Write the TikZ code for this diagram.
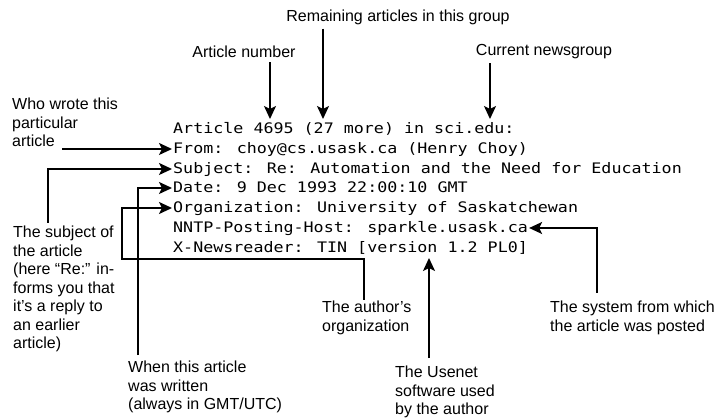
\documentclass[tikz,border=0pt]{standalone}
\usepackage{fontspec}
\setmainfont{Liberation Sans}
\newfontfamily\screenmono[FakeStretch=1.15]{DejaVu Sans Mono}
\usetikzlibrary{arrows.meta}

\begin{document}
\begin{tikzpicture}[x=1pt, y=-1pt,
  note/.style={inner sep=0pt, align=left, font=\fontsize{16}{18.5}\selectfont},
  hdr/.style={inner sep=0pt, anchor=west, text height=10pt, text depth=0pt,
    font=\screenmono\fontsize{14.5}{19.7}\selectfont},
  pointer/.style={line width=1.8pt, -{Stealth[length=13pt,width=12pt,inset=3pt]}}]
\useasboundingbox (0,0) rectangle (717,419);
\clip (0,0) rectangle (717,419);

% the article header
\node[hdr] (art) at (173,129) {Article 4695 (27 more) in sci.edu:};
\node[hdr] (from) at (173,149) {From: choy@cs.usask.ca (Henry Choy)};
\node[hdr] (subject) at (173,169) {Subject: Re: Automation and the Need for Education};
\node[hdr] (date) at (173,188) {Date: 9 Dec 1993 22:00:10 GMT};
\node[hdr] (org) at (173,208) {Organization: University of Saskatchewan};
\node[hdr] (nntp) at (173,228) {NNTP-Posting-Host: sparkle.usask.ca};
\node[hdr] (news) at (173,248) {X-Newsreader: TIN [version 1.2 PL0]};

% notes above
\node[note] (remain) at (398,17) {Remaining articles in this group};
\node[note] (artnum) at (244,52) {Article number};
\node[note] (curgrp) at (544,52) {Current newsgroup};
\coordinate (remtip) at (323,119);
\coordinate (numtip) at (270,119);
\coordinate (grptip) at (490,119);
\draw[pointer, shorten <=4pt] (remain.south -| remtip) -- (remtip);
\draw[pointer, shorten <=4pt] (artnum.south -| numtip) -- (numtip);
\draw[pointer, shorten <=4pt] (curgrp.south -| grptip) -- (grptip);

% notes on the left
\node[note, anchor=north west] (whowrote) at (12,98) {Who wrote this\\particular\\article};
\coordinate (whoend) at (62,149);
\draw[pointer, shorten >=1pt] (whoend) -- (from.west);

\node[note, anchor=north west] (subjnote) at (13,226)
  {The subject of\\the article\\(here “Re:” in-\\forms you that\\it’s a reply to\\an earlier\\article)};
\draw[pointer, shorten >=1pt] ([xshift=35pt,yshift=3pt]subjnote.north west) |- (subject.west);

\node[note, anchor=north west] (whennote) at (128,361) {When this article\\was written\\(always in GMT/UTC)};
\draw[pointer, shorten >=1pt] ([xshift=10pt,yshift=6pt]whennote.north west) |- (date.west);

% notes below
\node[note, anchor=north west] (orgnote) at (322,301) {The author’s\\organization};
\coordinate (orgbend) at (122,259);
\draw[pointer, shorten >=1pt] ([xshift=42pt,yshift=1pt]orgnote.north west) |- (orgbend) |- (org.west);

\node[note, anchor=north west] (usenote) at (395,366) {The Usenet\\software used\\by the author};
\coordinate (vertip) at (429,258);
\draw[pointer] ([xshift=34pt,yshift=8pt]usenote.north west) -- (vertip);

\node[note, anchor=north west] (sysnote) at (550,301) {The system from which\\the article was posted};
\draw[pointer, shorten >=1pt] ([xshift=47pt,yshift=8pt]sysnote.north west) |- (nntp.east);
\end{tikzpicture}
\end{document}
